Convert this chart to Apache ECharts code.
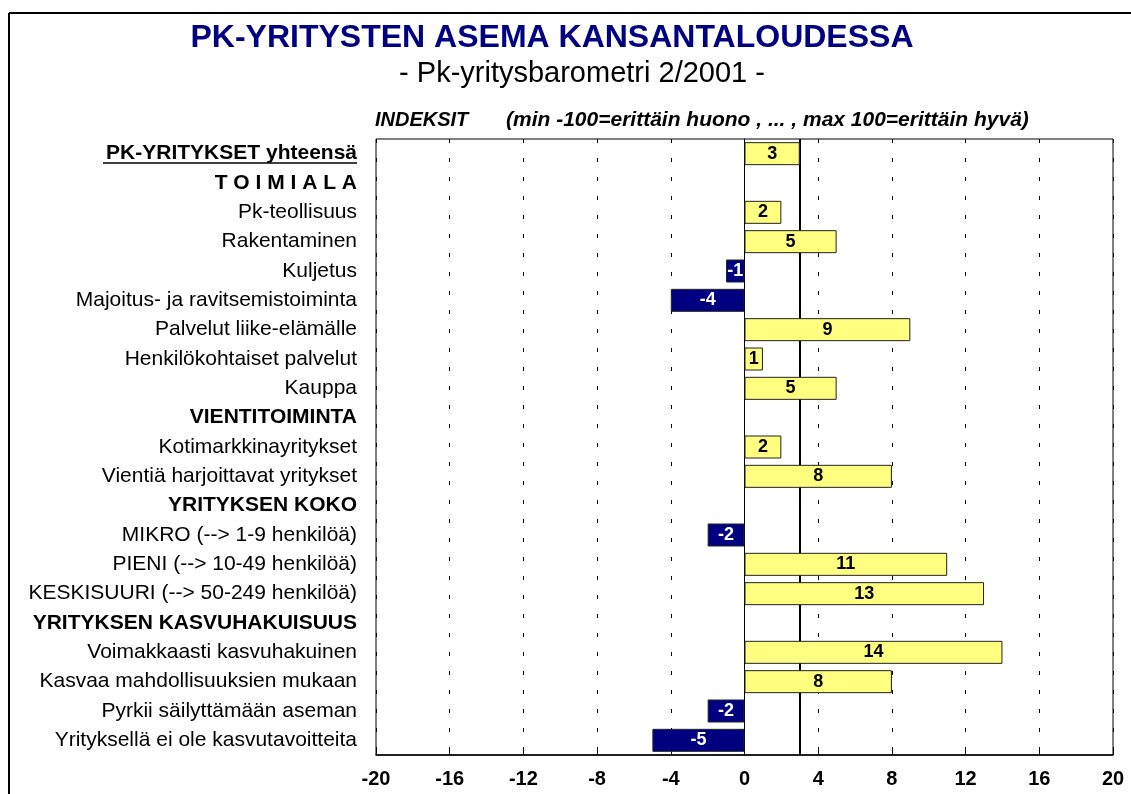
<!DOCTYPE html>
<html>
<head>
<meta charset="utf-8">
<script src="https://cdn.jsdelivr.net/npm/echarts@6/dist/echarts.min.js"></script>
<style>
  html, body { margin: 0; padding: 0; background: #fff; }
  #chart { width: 1131px; height: 794px; }
</style>
</head>
<body>
<div id="chart"></div>
<script>
// rows, top to bottom
const categories = [
  'PK-YRITYKSET yhteensä',
  'T O I M I A L A',
  'Pk-teollisuus',
  'Rakentaminen',
  'Kuljetus',
  'Majoitus- ja ravitsemistoiminta',
  'Palvelut liike-elämälle',
  'Henkilökohtaiset palvelut',
  'Kauppa',
  'VIENTITOIMINTA',
  'Kotimarkkinayritykset',
  'Vientiä harjoittavat yritykset',
  'YRITYKSEN KOKO',
  'MIKRO (--> 1-9 henkilöä)',
  'PIENI (--> 10-49 henkilöä)',
  'KESKISUURI (--> 50-249 henkilöä)',
  'YRITYKSEN KASVUHAKUISUUS',
  'Voimakkaasti kasvuhakuinen',
  'Kasvaa mahdollisuuksien mukaan',
  'Pyrkii säilyttämään aseman',
  'Yrityksellä ei ole kasvutavoitteita'
];
const values = [3, null, 2, 5, -1, -4, 9, 1, 5, null, 2, 8, null, -2, 11, 13, null, 14, 8, -2, -5];
const headerRows = ['T O I M I A L A', 'VIENTITOIMINTA', 'YRITYKSEN KOKO', 'YRITYKSEN KASVUHAKUISUUS'];
const totalRow = 'PK-YRITYKSET yhteensä';
const xTicks = [-20, -16, -12, -8, -4, 0, 4, 8, 12, 16, 20];

const FONT = 'Arial, "Liberation Sans", sans-serif';
const chart = echarts.init(document.getElementById('chart'));

const barData = values.map(v => {
  if (v === null) return '-';
  const neg = v < 0;
  return {
    value: v,
    itemStyle: { color: neg ? '#000080' : '#FFFF80' },
    label: { color: neg ? '#fff' : '#000' }
  };
});

const option = {
  animation: false,
  backgroundColor: '#fff',
  textStyle: { fontFamily: FONT },
  grid: {
    left: 376, right: 18, top: 139, bottom: 39,
    show: true, borderColor: '#000', borderWidth: 1
  },
  xAxis: {
    type: 'value',
    min: xTicks[0],
    max: xTicks[xTicks.length - 1],
    interval: 4,
    axisLine: { show: true, lineStyle: { color: '#000', width: 1.5 } },
    axisTick: { show: true, inside: true, length: 4, lineStyle: { color: '#000' } },
    axisLabel: { color: '#000', fontSize: 20, fontWeight: 'bold', margin: 14, fontFamily: FONT },
    splitLine: { show: true, lineStyle: { color: '#000', width: 1, type: [4, 15] } }
  },
  yAxis: {
    type: 'category',
    inverse: true,
    data: categories,
    axisLine: { show: true, onZero: true, lineStyle: { color: '#000', width: 1 } },
    axisTick: { show: false },
    axisLabel: {
      margin: 19,
      color: '#000',
      fontSize: 21,
      fontFamily: FONT,
      formatter: v => (headerRows.includes(v) || v === totalRow) ? '{b|' + v + '}' : v,
      rich: { b: { fontWeight: 'bold', fontSize: 21, color: '#000', fontFamily: FONT } }
    }
  },
  series: [{
    // line at the overall value, drawn behind the bars
    type: 'line',
    data: [],
    z: 1,
    markLine: {
      silent: true,
      symbol: 'none',
      label: { show: false },
      lineStyle: { color: '#000', width: 2, type: 'solid' },
      data: [{ xAxis: values[0] }]
    }
  }, {
    type: 'bar',
    z: 5,
    data: barData,
    barWidth: 23,
    itemStyle: { borderColor: '#222', borderWidth: 1 },
    label: {
      show: true,
      position: 'inside',
      fontSize: 18,
      fontWeight: 'bold',
      fontFamily: FONT
    }
  }],
  graphic: [
    { type: 'line', shape: { x1: 9, y1: 13, x2: 1131, y2: 13 }, style: { stroke: '#000', lineWidth: 2 } },
    { type: 'line', shape: { x1: 9, y1: 13, x2: 9, y2: 794 }, style: { stroke: '#000', lineWidth: 2 } },
    { type: 'text', x: 552, y: 38, style: { text: 'PK-YRITYSTEN ASEMA KANSANTALOUDESSA', font: 'bold 32px ' + FONT, fill: '#000080', align: 'center', verticalAlign: 'middle' } },
    { type: 'text', x: 582, y: 74, style: { text: '- Pk-yritysbarometri 2/2001 -', font: '29px ' + FONT, fill: '#000', align: 'center', verticalAlign: 'middle' } },
    { type: 'text', x: 375, y: 120, style: { text: 'INDEKSIT', font: 'italic bold 20px ' + FONT, fill: '#000', align: 'left', verticalAlign: 'middle' } },
    { type: 'text', x: 506, y: 120, style: { text: '(min -100=erittäin huono , ... , max 100=erittäin hyvä)', font: 'italic bold 21px ' + FONT, fill: '#000', align: 'left', verticalAlign: 'middle' } },
    { type: 'line', shape: { x1: 103, y1: 163, x2: 357, y2: 163 }, style: { stroke: '#000', lineWidth: 1.5 } }
  ]
};

chart.setOption(option);
</script>
</body>
</html>
